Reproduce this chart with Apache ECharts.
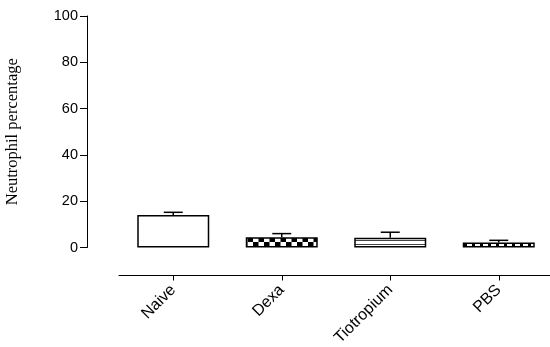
<!DOCTYPE html>
<html><head><meta charset="utf-8">
<script src="https://cdn.jsdelivr.net/npm/echarts@6/dist/echarts.min.js"></script>
<style>html,body{margin:0;padding:0;background:#fff}#c{width:550px;height:347px}</style>
</head><body><div id="c"></div>
<script>
var categories = ['Naive', 'Dexa', 'Tiotropium', 'PBS'];
var means = [14.0, 4.4, 4.2, 2.2];
var errors = [1.2, 1.6, 2.4, 0.9];
var yTicks = [0, 20, 40, 60, 80, 100];

function makePattern(kind) {
  var c = document.createElement('canvas');
  var ctx;
  if (kind === 'checker') {
    c.width = 11; c.height = 11; ctx = c.getContext('2d');
    ctx.fillStyle = '#fff'; ctx.fillRect(0, 0, 11, 11);
    ctx.fillStyle = '#000'; ctx.fillRect(0, 0, 5.5, 5.5); ctx.fillRect(5.5, 5.5, 5.5, 5.5);
  } else if (kind === 'hlines') {
    c.width = 8; c.height = 4; ctx = c.getContext('2d');
    ctx.fillStyle = '#fff'; ctx.fillRect(0, 0, 8, 4);
    ctx.fillStyle = '#444'; ctx.fillRect(0, 0, 8, 1);
  } else if (kind === 'vblocks') {
    c.width = 8; c.height = 8; ctx = c.getContext('2d');
    ctx.fillStyle = '#fff'; ctx.fillRect(0, 0, 8, 8);
    ctx.fillStyle = '#000'; ctx.fillRect(0, 0, 3, 8);
  } else {
    c.width = 4; c.height = 4; ctx = c.getContext('2d');
    ctx.fillStyle = '#fff'; ctx.fillRect(0, 0, 4, 4);
  }
  return {image: c, repeat: 'repeat'};
}
var patterns = ['plain', 'checker', 'hlines', 'vblocks'];

var chart = echarts.init(document.getElementById('c'), null, {renderer: 'canvas'});
var barData = means.map(function (v, i) {
  return {value: v, itemStyle: {color: makePattern(patterns[i]), borderColor: '#000', borderWidth: 1.5}};
});
chart.setOption({
  animation: false,
  backgroundColor: '#fff',
  grid: {left: 119, right: -3, top: 16, bottom: 99.5, containLabel: false, outerBoundsMode: 'none'},
  xAxis: {
    type: 'category', data: categories, offset: 28,
    axisLine: {onZero: false, lineStyle: {color: '#000', width: 1}},
    axisTick: {show: true, alignWithLabel: true, length: 5, lineStyle: {color: '#000', width: 1}},
    axisLabel: {rotate: 45, color: '#000', fontFamily: 'Liberation Sans, Arial', fontSize: 16, margin: 12}
  },
  yAxis: {
    type: 'value', min: 0, max: 100, interval: 20, offset: 32,
    name: 'Neutrophil percentage', nameLocation: 'middle', nameGap: 66,
    nameTextStyle: {fontFamily: 'Liberation Serif, Times New Roman', fontSize: 16.5, color: '#000'},
    splitLine: {show: false},
    axisLine: {show: true, lineStyle: {color: '#000', width: 1}},
    axisTick: {show: true, length: 7, lineStyle: {color: '#000'}},
    axisLabel: {color: '#000', fontFamily: 'Liberation Sans, Arial', fontSize: 14.5, margin: 9,
      formatter: function (v) { return yTicks.indexOf(v) >= 0 ? String(v) : ''; }}
  },
  series: [
    {type: 'bar', data: barData, barWidth: 72},
    {type: 'custom', z: 5,
      data: means.map(function (m, i) { return [i, m, m + errors[i]]; }),
      renderItem: function (params, api) {
        var x = api.value(0);
        var p0 = api.coord([x, api.value(1)]);
        var p1 = api.coord([x, api.value(2)]);
        var hw = 9.5;
        return {type: 'group', children: [
          {type: 'line', shape: {x1: p0[0], y1: p0[1], x2: p1[0], y2: p1[1]}, style: {stroke: '#000', lineWidth: 1.5}},
          {type: 'line', shape: {x1: p1[0] - hw, y1: p1[1], x2: p1[0] + hw, y2: p1[1]}, style: {stroke: '#000', lineWidth: 1.5}}
        ]};
      }
    }
  ]
});
</script></body></html>
